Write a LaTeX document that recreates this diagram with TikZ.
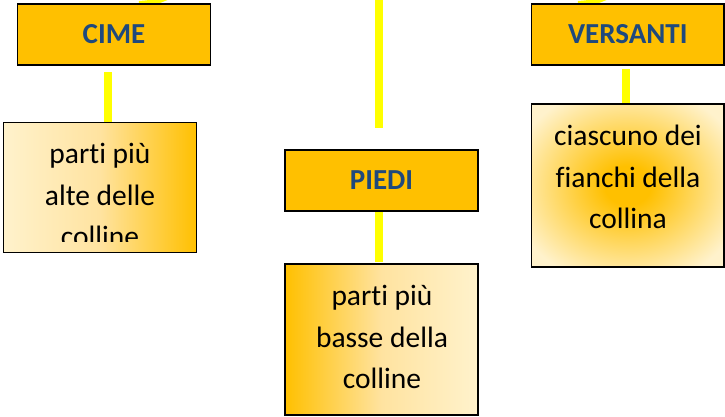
\documentclass[tikz,border=0pt]{standalone}
\usepackage{fontspec}
\setmainfont{Carlito}[Ligatures=NoCommon]
\definecolor{orng}{HTML}{FFC000}
\definecolor{lite}{HTML}{FFF2CC}
\definecolor{midc}{HTML}{FFE3A0}
\definecolor{ttl}{HTML}{1F497D}
\definecolor{ylw}{HTML}{FFFF00}
\pgfdeclareradialshading{corefade}{\pgfpoint{0bp}{0bp}}{color(0bp)=(orng); color(6bp)=(orng); color(31bp)=(lite); color(50bp)=(lite)}
\tikzset{
  ttlbox/.style={draw=black, line width=1.5pt, fill=orng, minimum width=193pt, minimum height=61pt, inner sep=0pt, font=\fontsize{29}{35}\selectfont\bfseries, text=ttl},
  bodybox/.style={draw=black, line width=1.5pt, inner sep=0pt},
  bodytext/.style={align=center, inner sep=0pt, font=\fontsize{29.5}{41.5}\selectfont, text=black},
  conn/.style={draw=ylw, line width=8pt},
}
\begin{document}
\begin{tikzpicture}[x=1pt,y=-1pt]
\useasboundingbox (0,0) rectangle (725,416);
% connector end points
\coordinate (ctop) at (379,0);
\coordinate (cbot) at (379,128);
\coordinate (pa) at (379,211);
\coordinate (pb) at (379,262);
\coordinate (la) at (108,72);
\coordinate (lb) at (108,123);
\coordinate (va) at (626,69);
\coordinate (vb) at (626,104.5);
\coordinate (s1a) at (139,4);
\coordinate (s1b) at (167,-3);
\coordinate (s2a) at (578,4);
\coordinate (s2b) at (606,-3);
% connectors (behind boxes)
\draw[conn, line width=6pt] (s1a) .. controls (152,3) .. (s1b);
\draw[conn, line width=6pt] (s2a) .. controls (591,3) .. (s2b);
\draw[conn] (ctop) -- (cbot);
\draw[conn] (pa) -- (pb);
\draw[conn] (la) -- (lb);
\draw[conn] (va) -- (vb);
% title boxes
\node[ttlbox] (cime) at (114,34.5) {\raisebox{-1.5pt}{CIME}};
\node[ttlbox] (piedi) at (381.5,180.5) {\raisebox{-1.5pt}{PIEDI}};
\node[ttlbox, minimum width=192.5pt] (vers) at (627.75,34.5) {\raisebox{-1.5pt}{VERSANTI}};
% body boxes
\node[bodybox, minimum width=193pt, minimum height=130pt, left color=lite, right color=orng, middle color=midc] (b1) at (100,187.5) {};
\node[bodybox, minimum width=193pt, minimum height=151pt, left color=orng, right color=lite, middle color=midc] (b3) at (381.5,339.5) {};
\node[bodybox, minimum width=192.5pt, minimum height=163pt, shading=corefade] (b4) at (627.75,185.5) {};
% texts
\begin{scope}
\clip (4,123) rectangle (196,241.5);
\node[bodytext] (b1t) at (100,195) {parti più\\alte delle\\colline};
\end{scope}
\node[bodytext] (b3t) at (382,337) {parti più\\basse della\\colline};
\node[bodytext] (b4t) at (628,177) {ciascuno dei\\fianchi della\\collina};
\end{tikzpicture}
\end{document}
